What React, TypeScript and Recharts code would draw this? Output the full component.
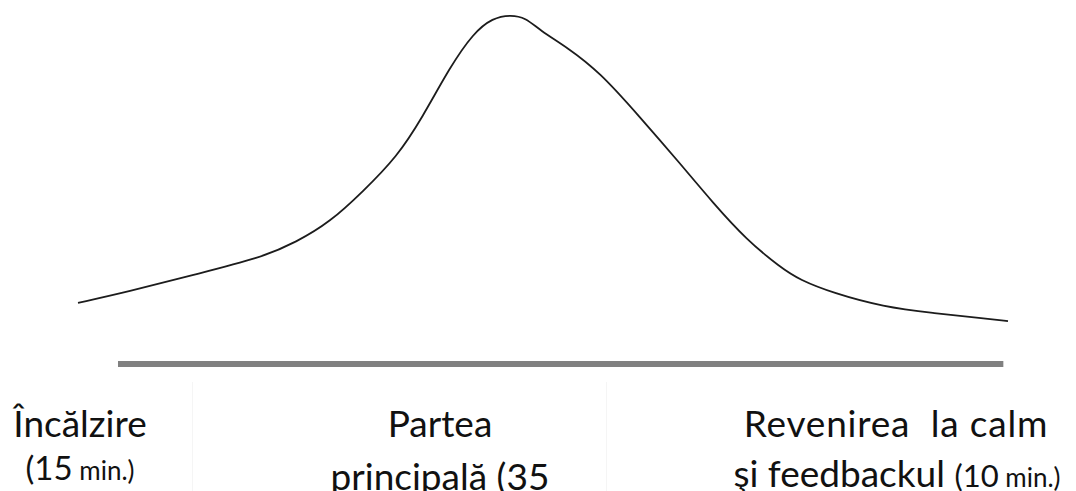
import { LineChart, Line, XAxis, YAxis, ReferenceLine } from 'recharts';

// position along the lesson (0..100) and effort intensity (0..100)
const lessonPos = [0, 5.3, 12.4, 19.6, 23.5, 27.1, 30.6, 34.3, 37.0, 40.0, 42.5, 44.6, 46.5, 48.1, 49.7, 52.6, 56.1, 60.4, 64.7, 68.3, 71.9, 75.5, 77.6, 81.2, 86.6, 91.9, 97.3, 100];
const intensity = [16.8, 19.8, 24.5, 29.1, 33.5, 39.0, 47.3, 56.9, 67.6, 81.6, 90.9, 95.1, 95.9, 95.2, 91.6, 87.0, 80.2, 67.9, 55.2, 44.2, 34.1, 26.6, 23.1, 19.5, 15.7, 14.0, 12.6, 11.8];

// time base drawn under the curve
const baseStart = 4.3;
const baseEnd = 99.5;

const phaseNames = ['Încălzire', 'Partea', 'Revenirea  la calm'];
const phaseLead = ['', 'principală ', 'şi feedbackul '];
const phaseMinutes = ['15', '35', '10'];

const data = lessonPos.map((x, i) => ({ x, y: intensity[i] }));

const FONT = 'Lato, "Open Sans", sans-serif';
const keepSpaces = (s: string) => s.replace(/ /g, '\u00a0');

export default function App() {
   return (
      <div style={{ position: 'absolute', left: 0, top: 0, width: 1076, height: 491, background: '#fff', overflow: 'hidden' }}>
         <LineChart width={1076} height={491} data={data} margin={{ top: 0, right: 68, bottom: 127, left: 78 }}>
            <XAxis dataKey="x" type="number" domain={[0, 100]} hide />
            <YAxis type="number" domain={[0, 100]} hide />
            <ReferenceLine
               segment={[{ x: baseStart, y: 0 }, { x: baseEnd, y: 0 }]}
               stroke="#808080"
               strokeWidth={6}
               ifOverflow="visible"
            />
            <Line
               type="basis"
               dataKey="y"
               stroke="#1c1c1c"
               strokeWidth={1.8}
               dot={false}
               isAnimationActive={false}
            />
         </LineChart>
         <svg width={1076} height={491} style={{ position: 'absolute', left: 0, top: 0, pointerEvents: 'none' }}>
            <line x1={192.5} y1={382} x2={192.5} y2={491} stroke="#f5f5f5" strokeWidth={1} />
            <line x1={606.5} y1={382} x2={606.5} y2={491} stroke="#f5f5f5" strokeWidth={1} />
            <g fontFamily={FONT} fill="#111" textAnchor="middle">
               <text x={80} y={437} fontSize={37}>{phaseNames[0]}</text>
               <text x={440} y={437} fontSize={37}>{phaseNames[1]}</text>
               <text x={896} y={437} fontSize={37} letterSpacing={0.8}>{keepSpaces(phaseNames[2])}</text>

               <text x={80} y={480}>
                  <tspan fontSize={33}>({phaseMinutes[0]}</tspan>
                  <tspan fontSize={26}> min.)</tspan>
               </text>
               <text x={440} y={490} fontSize={37}>{phaseLead[1]}({phaseMinutes[1]}</text>
               <text x={440} y={540} fontSize={26}>min.)</text>
               <text x={897} y={487}>
                  <tspan fontSize={37}>{phaseLead[2]}</tspan>
                  <tspan fontSize={31}>({phaseMinutes[2]}</tspan>
                  <tspan fontSize={26}> min.)</tspan>
               </text>
            </g>
         </svg>
      </div>
   );
}
